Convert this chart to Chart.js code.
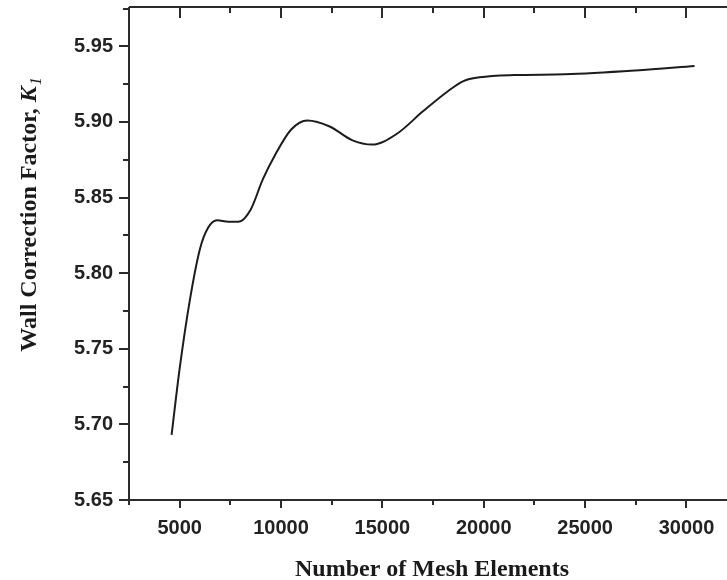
<!DOCTYPE html>
<html>
<head>
<meta charset="utf-8">
<script src="https://cdn.jsdelivr.net/npm/chart.js@4.4.0/dist/chart.umd.min.js"></script>
<style>
  html, body { margin: 0; padding: 0; background: #fff; }
  #wrap { width: 727px; height: 580px; }
</style>
</head>
<body>
<div id="wrap"><canvas id="chart-k1"></canvas></div>
<script>
// mesh elements vs wall correction factor K1
let meshElements = [4600, 5000, 5500, 6000, 6400, 6850, 7400, 7900, 8500, 9100, 9700, 10500, 11300, 12400, 13500, 14500, 15700, 17000, 18200, 19000, 19800, 21500, 24000, 27500, 30400]
let wallFactor = [5.693, 5.737, 5.782, 5.816, 5.830, 5.835, 5.834, 5.834, 5.842, 5.862, 5.878, 5.895, 5.901, 5.897, 5.888, 5.885, 5.892, 5.907, 5.920, 5.927, 5.9295, 5.931, 5.9315, 5.934, 5.937]
let xTicks = [5000, 10000, 15000, 20000, 25000, 30000]
let yTicks = [5.65, 5.70, 5.75, 5.80, 5.85, 5.90, 5.95]

let points = meshElements.map((m, i) => ({ x: m, y: wallFactor[i] }))

const axisColor = '#2b2b2b'
const tickFont = { family: 'Liberation Sans', size: 20, weight: 'bold' }

// draws axis lines, major/minor tick marks and the axis titles
const frame = {
    id: 'frame',
    afterDraw(chart) {
        const ctx = chart.ctx
        const a = chart.chartArea
        const xs = chart.scales.x
        const ys = chart.scales.y
        ctx.save()
        ctx.strokeStyle = axisColor
        ctx.lineWidth = 2
        ctx.beginPath()
        ctx.moveTo(a.left, a.top); ctx.lineTo(a.left, a.bottom)
        ctx.moveTo(a.left, a.bottom); ctx.lineTo(a.right, a.bottom)
        ctx.moveTo(a.left, a.top); ctx.lineTo(a.right, a.top)
        ctx.stroke()

        ctx.beginPath()
        for (let v = 2500; v <= xs.max; v += 2500) {
            const px = Math.round(xs.getPixelForValue(v))
            const major = v % 5000 === 0
            ctx.moveTo(px, a.bottom); ctx.lineTo(px, a.bottom + (major ? 8 : 5))
            ctx.moveTo(px, a.top); ctx.lineTo(px, a.top + (major ? 11 : 6))
        }
        for (let k = 0; 5.65 + k * 0.025 <= ys.max + 1e-9; k++) {
            const v = 5.65 + k * 0.025
            const py = Math.round(ys.getPixelForValue(v))
            ctx.moveTo(a.left, py); ctx.lineTo(a.left - (k % 2 === 0 ? 10 : 6), py)
        }
        ctx.stroke()

        ctx.fillStyle = '#1a1a1a'
        ctx.textAlign = 'center'
        ctx.textBaseline = 'middle'
        ctx.font = 'bold 24px "Liberation Serif"'
        ctx.fillText('Number of Mesh Elements', 432, 570)

        // rotated y title with italic K and subscript 1
        ctx.translate(28, 215)
        ctx.rotate(-Math.PI / 2)
        const main = 'Wall Correction Factor, '
        ctx.font = 'bold 24px "Liberation Serif"'
        const w1 = ctx.measureText(main).width
        ctx.font = 'bold italic 24px "Liberation Serif"'
        const w2 = ctx.measureText('K').width
        ctx.font = 'italic 16px "Liberation Serif"'
        const w3 = ctx.measureText('1').width
        let x0 = -(w1 + w2 + w3) / 2
        ctx.textAlign = 'left'
        ctx.textBaseline = 'alphabetic'
        ctx.font = 'bold 24px "Liberation Serif"'
        ctx.fillText(main, x0, 8)
        ctx.font = 'bold italic 24px "Liberation Serif"'
        ctx.fillText('K', x0 + w1, 8)
        ctx.font = 'italic 16px "Liberation Serif"'
        ctx.fillText('1', x0 + w1 + w2 + 1, 13)
        ctx.restore()
    }
}

new Chart(document.getElementById('chart-k1'),
    {
        type : 'line',
        data : {
            datasets : [{
                label : 'K1',
                data : points,
                borderColor : '#1c1c1c',
                borderWidth : 2,
                pointRadius : 0,
                tension : 0.4,
                cubicInterpolationMode : 'monotone',
                fill : false
            }]
        },
        options : {
            responsive : true,
            maintainAspectRatio : false,
            animation : false,
            layout : { padding : { top : 7, right : 0, left : 0, bottom : 0 } },
            plugins : {
                legend : { display : false },
                tooltip : { enabled : false }
            },
            scales : {
                x : {
                    type : 'linear',
                    min : 2500,
                    max : 32000,
                    afterFit : function(s){ s.height = 80; s.paddingLeft = 0; s.paddingRight = 0 },
                    afterBuildTicks : function(s){ s.ticks = xTicks.map(v => ({ value : v })) },
                    grid : { display : false, drawTicks : false },
                    border : { display : false },
                    ticks : {
                        padding : 16,
                        color : '#222',
                        font : tickFont,
                        maxRotation : 0,
                        callback : function(v){ return String(v) }
                    }
                },
                y : {
                    min : 5.65,
                    max : 5.976,
                    afterFit : function(s){ s.width = 129; s.paddingTop = 0; s.paddingBottom = 0 },
                    afterBuildTicks : function(s){ s.ticks = yTicks.map(v => ({ value : v })) },
                    grid : { display : false, drawTicks : false },
                    border : { display : false },
                    ticks : {
                        padding : 16,
                        color : '#222',
                        font : tickFont,
                        callback : function(v){ return v.toFixed(2) }
                    }
                }
            }
        },
        plugins : [frame]
    }
)
</script>
</body>
</html>
